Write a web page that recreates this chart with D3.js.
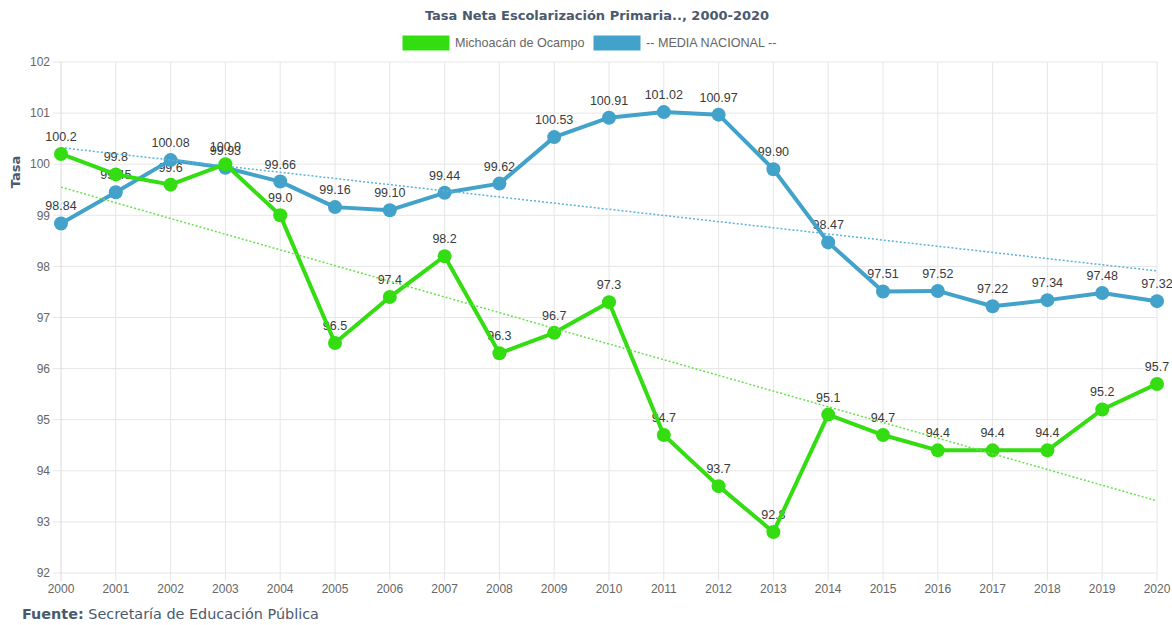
<!DOCTYPE html>
<html>
<head>
<meta charset="utf-8">
<script src="https://cdn.jsdelivr.net/npm/d3@7"></script>
<style>
  body { margin: 0; background: #fff; }
  svg text { font-family: "Liberation Sans", Arial, sans-serif; }
</style>
</head>
<body>
<div id="chart"></div>
<script>
var years = [2000, 2001, 2002, 2003, 2004, 2005, 2006, 2007, 2008, 2009, 2010,
             2011, 2012, 2013, 2014, 2015, 2016, 2017, 2018, 2019, 2020];
var michoacan = [100.2, 99.8, 99.6, 100.0, 99.0, 96.5, 97.4, 98.2, 96.3, 96.7, 97.3,
                 94.7, 93.7, 92.8, 95.1, 94.7, 94.4, 94.4, 94.4, 95.2, 95.7];
var nacional = [98.84, 99.45, 100.08, 99.93, 99.66, 99.16, 99.10, 99.44, 99.62, 100.53, 100.91,
                101.02, 100.97, 99.90, 98.47, 97.51, 97.52, 97.22, 97.34, 97.48, 97.32];
var yTicks = [92, 93, 94, 95, 96, 97, 98, 99, 100, 101, 102];

var width = 1172, height = 625;
var margin = {top: 62, right: 15, bottom: 52, left: 61};

var svg = d3.select("#chart").append("svg")
    .attr("width", width)
    .attr("height", height);

var x = d3.scalePoint().domain(years).range([margin.left, width - margin.right]);
var y = d3.scaleLinear().domain([92, 102]).range([height - margin.bottom, margin.top]);

// grid
svg.append("g").selectAll("line.h")
    .data(yTicks).enter().append("line")
    .attr("x1", margin.left - 8).attr("x2", width - margin.right)
    .attr("y1", function(d) { return y(d); }).attr("y2", function(d) { return y(d); })
    .style("stroke", "#e6e6e6").style("stroke-width", 1);
svg.append("g").selectAll("line.v")
    .data(years).enter().append("line")
    .attr("x1", function(d) { return x(d); }).attr("x2", function(d) { return x(d); })
    .attr("y1", margin.top).attr("y2", height - margin.bottom + 8)
    .style("stroke", function(d, i) { return i === 0 ? "#d9d9d9" : "#e6e6e6"; })
    .style("stroke-width", 1);

// axes labels
svg.append("g").selectAll("text")
    .data(yTicks).enter().append("text")
    .attr("x", margin.left - 11)
    .attr("y", function(d) { return y(d); })
    .attr("dy", "0.35em")
    .attr("text-anchor", "end")
    .style("font-size", "12px").style("fill", "#666")
    .text(function(d) { return d; });

svg.append("g").selectAll("text")
    .data(years).enter().append("text")
    .attr("x", function(d) { return x(d); })
    .attr("y", height - margin.bottom + 20)
    .attr("text-anchor", "middle")
    .style("font-size", "12px").style("fill", "#666")
    .text(function(d) { return d; });

svg.append("text")
    .attr("transform", "translate(20," + 172 + ") rotate(-90)")
    .attr("text-anchor", "middle")
    .style("font-family", "'DejaVu Sans', sans-serif")
    .style("font-size", "13px").style("font-weight", "bold").style("fill", "#4a5a6e")
    .text("Tasa");

// title
svg.append("text")
    .attr("x", 597).attr("y", 20)
    .attr("text-anchor", "middle")
    .style("font-family", "'DejaVu Sans', sans-serif")
    .style("font-size", "13px").style("font-weight", "bold").style("fill", "#4a5a6e")
    .text("Tasa Neta Escolarización Primaria.., 2000-2020");

// legend
var series = [
  {name: "Michoacán de Ocampo", values: michoacan, color: "#33dd11", trend: "#66e24a", digits: 1},
  {name: "-- MEDIA NACIONAL --", values: nacional, color: "#42a2c9", trend: "#5ab3d8", digits: 2}
];
var legendX = [403, 594];
var legend = svg.append("g").selectAll("g")
    .data(series).enter().append("g")
    .attr("transform", function(d, i) { return "translate(" + legendX[i] + ",36)"; });
legend.append("rect")
    .attr("width", 46).attr("height", 14)
    .style("fill", function(d) { return d.color; })
    .style("stroke", function(d) { return d.color; });
legend.append("text")
    .attr("x", 52).attr("y", 7).attr("dy", "0.35em")
    .style("font-size", "12.6px").style("fill", "#666")
    .text(function(d) { return d.name; });

// least squares trend from the data
function trend(vals) {
  var n = vals.length, sx = 0, sy = 0, sxy = 0, sxx = 0;
  vals.forEach(function(v, i) { sx += i; sy += v; sxy += i * v; sxx += i * i; });
  var b = (n * sxy - sx * sy) / (n * sxx - sx * sx);
  var a = (sy - b * sx) / n;
  return [a, a + b * (n - 1)];
}

var line = d3.line()
    .x(function(d, i) { return x(years[i]); })
    .y(function(d) { return y(d); });

// labels under lines
series.slice().reverse().forEach(function(s) {
  svg.append("g").selectAll("text")
      .data(s.values).enter().append("text")
      .attr("x", function(d, i) { return x(years[i]); })
      .attr("y", function(d) { return y(d) - 13; })
      .attr("text-anchor", "middle")
      .style("font-size", "12.5px").style("fill", "#3a3a3a")
      .text(function(d) { return d.toFixed(s.digits); });
});

// draw blue first, green on top
series.slice().reverse().forEach(function(s) {
  var g = svg.append("g");
  g.append("path")
      .attr("d", line(s.values))
      .style("fill", "none")
      .style("stroke", s.color)
      .style("stroke-width", 4)
      .style("stroke-linejoin", "round");
  g.selectAll("circle")
      .data(s.values).enter().append("circle")
      .attr("cx", function(d, i) { return x(years[i]); })
      .attr("cy", function(d) { return y(d); })
      .attr("r", 7)
      .style("fill", s.color);
  var t = trend(s.values);
  g.append("line")
      .attr("x1", x(years[0])).attr("x2", x(years[years.length - 1]))
      .attr("y1", y(t[0])).attr("y2", y(t[1]))
      .style("stroke", s.trend)
      .style("stroke-width", 1.5)
      .style("stroke-dasharray", "2,2");
});

// footer
var foot = svg.append("text")
    .attr("x", 22).attr("y", 619)
    .style("font-family", "'DejaVu Sans', sans-serif")
    .style("font-size", "14.4px").style("fill", "#4a5a6e");
foot.append("tspan").style("font-weight", "bold").text("Fuente:");
foot.append("tspan").text(" Secretaría de Educación Pública");
</script>
</body>
</html>
